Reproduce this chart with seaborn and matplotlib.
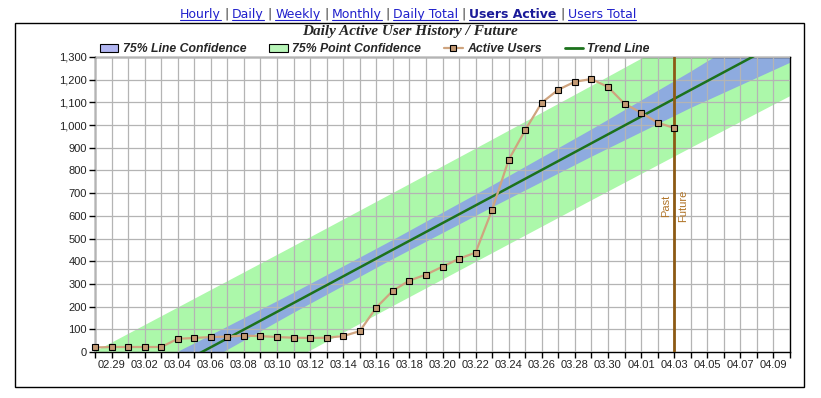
import numpy as np
import pandas as pd
import seaborn as sns
import matplotlib.pyplot as plt
from matplotlib.lines import Line2D
from matplotlib.patches import Patch, Rectangle

W, H = 821, 398

# days shown on the x axis (2012, leap year)
dates = pd.date_range('2012-02-28', '2012-04-10').strftime('%m.%d').tolist()
users = [20, 22, 22, 22, 22, 58, 62, 66, 68, 72, 70, 66, 63, 62, 63, 70, 92, 196,
         270, 315, 341, 376, 411, 438, 627, 847, 978, 1099, 1156, 1191, 1203, 1168,
         1094, 1055, 1011, 987]

# trend line and confidence bands, read every 6th day
band_day = [0, 6, 12, 18, 24, 30, 36, 42]
trend = [-253, -18, 216, 451, 685, 920, 1155, 1389]
line_lo = [-325, -73, 172, 409, 637, 860, 1075, 1274]
line_hi = [-181, 37, 260, 493, 733, 980, 1235, 1504]
point_lo = [-508, -270, -34, 202, 435, 668, 899, 1127]
point_hi = [2, 234, 466, 700, 935, 1172, 1411, 1651]

split_day = 35  # 04.03
links = ['Hourly', 'Daily', 'Weekly', 'Monthly', 'Daily Total', 'Users Active', 'Users Total']
current = 'Users Active'

GREEN = '#acf8aa'
BLUE = '#8eabdf'
TREND = '#1c721c'
USER = '#cfa47f'
SPLIT = '#8c5a14'


def draw_links(fig, x0, base):
    r = fig.canvas.get_renderer()
    x = x0
    for i, name in enumerate(links):
        if i > 0:
            t = fig.text((x + 3.5) / W, 1 - base / H, '|', color='#333333', fontsize=9,
                         family='DejaVu Sans', va='baseline')
            x = t.get_window_extent(r).x1 + 3.5
        bold = name == current
        t = fig.text(x / W, 1 - base / H, name, color='#1a1a99' if bold else '#1f1fcc',
                     fontsize=9, family='DejaVu Sans', va='baseline',
                     fontweight='bold' if bold else 'normal')
        bb = t.get_window_extent(r)
        fig.add_artist(Line2D([bb.x0 / W, bb.x1 / W], [1 - (base + 2) / H] * 2,
                              color=t.get_color(), lw=0.8, transform=fig.transFigure))
        x = bb.x1


sns.set_style('white')
fig = plt.figure(figsize=(W / 100, H / 100), dpi=100)
ax = fig.add_axes([95 / W, 1 - 352 / H, 695 / W, 295 / H])

ax.fill_between(band_day, point_lo, point_hi, color=GREEN, lw=0, zorder=1)
ax.fill_between(band_day, line_lo, line_hi, color=BLUE, lw=0, zorder=1.2)
sns.lineplot(x=band_day, y=trend, ax=ax, color=TREND, lw=1.8, zorder=4)
sns.lineplot(x=list(range(len(users))), y=users, ax=ax, color=USER, lw=1.6,
             marker='s', markersize=5, markerfacecolor='#c49a74',
             markeredgecolor='black', markeredgewidth=0.8, zorder=5, clip_on=False)
ax.axvline(split_day, color=SPLIT, lw=2, zorder=4)
ax.annotate('Past', (split_day, 643), xytext=(-2.5, 0), textcoords='offset points',
            rotation=90, ha='right', va='center', color='#b07428', fontsize=8,
            family='Liberation Sans')
ax.annotate('Future', (split_day, 643), xytext=(2.5, 0), textcoords='offset points',
            rotation=90, ha='left', va='center', color='#b07428', fontsize=8,
            family='Liberation Sans')

ax.set_xlim(0, len(dates) - 1)
ax.set_ylim(0, 1300)
ax.set_xticks(range(len(dates)))
ax.set_xticklabels([d if i % 2 == 1 else '' for i, d in enumerate(dates)])
ax.set_yticks(range(0, 1301, 100))
ax.set_yticklabels([f'{v:,}' for v in range(0, 1301, 100)])
ax.set_axisbelow(False)
ax.grid(True, color='#b4b4b4', lw=0.9, zorder=2.5)
ax.tick_params(axis='both', direction='out', length=4, width=1, color='black',
               labelsize=8, labelcolor='#222222', pad=2, bottom=True, left=True)
for lab in ax.get_xticklabels() + ax.get_yticklabels():
    lab.set_family('Liberation Sans')
for s in ax.spines.values():
    s.set_color('black')
    s.set_linewidth(1)
ax.set_xlabel('')
ax.set_ylabel('')

# outer frame
fig.add_artist(Rectangle((15 / W, 1 - 387 / H), 789 / W, 364 / H, fill=False,
                         ec='black', lw=1, transform=fig.transFigure))

fig.text(410 / W, 1 - 31 / H, 'Daily Active User History / Future', ha='center',
         va='center', fontsize=11, family='Liberation Serif', fontweight='bold',
         fontstyle='italic')

handles = [
    Patch(facecolor='#b2b6f2', edgecolor='black', lw=0.8, label='75% Line Confidence'),
    Patch(facecolor='#b8f5b8', edgecolor='black', lw=0.8, label='75% Point Confidence'),
    Line2D([], [], color=USER, lw=1.6, marker='s', markersize=4.5,
           markerfacecolor='#c49a74', markeredgecolor='black', markeredgewidth=0.8,
           label='Active Users'),
    Line2D([], [], color=TREND, lw=2, label='Trend Line'),
]
fig.legend(handles=handles, loc='center left', bbox_to_anchor=(100 / W, 1 - 49 / H),
           ncol=4, frameon=False, borderpad=0, borderaxespad=0, handlelength=1.5,
           handleheight=0.6, handletextpad=0.35, columnspacing=1.9,
           prop={'family': 'Liberation Sans', 'weight': 'bold', 'style': 'italic',
                 'size': 8.8})

draw_links(fig, 180, 18)

fig.savefig('out.png', dpi=100)
